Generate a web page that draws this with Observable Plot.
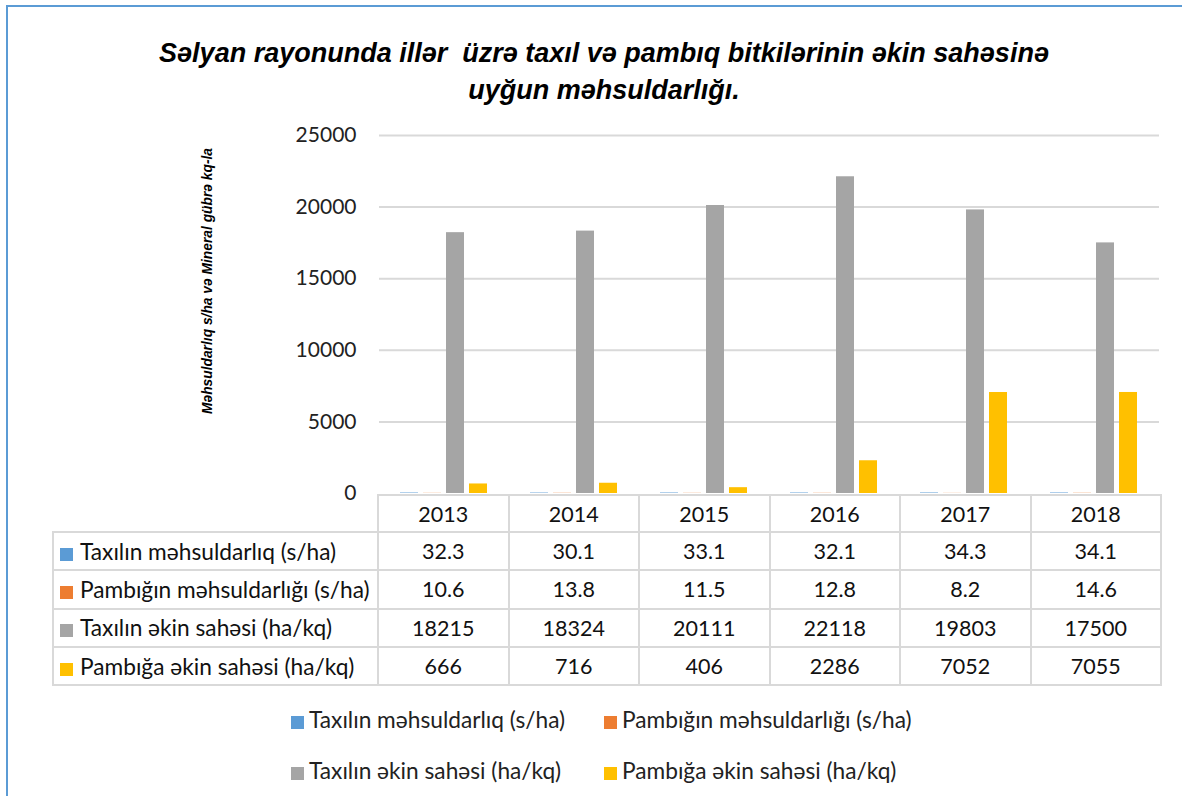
<!DOCTYPE html>
<html>
<head>
<meta charset="utf-8">
<script src="https://cdn.jsdelivr.net/npm/d3@7"></script>
<script src="https://cdn.jsdelivr.net/npm/@observablehq/plot@0.6"></script>
<style>
  html, body { margin: 0; padding: 0; background: #fff; }
  #root { position: relative; width: 1182px; height: 796px; overflow: hidden; background: #fff; }
  #frame { position: absolute; left: 6px; top: 5px; width: 1300px; height: 900px;
           border-top: 2px solid #5b9bd5; border-left: 2px solid #5b9bd5; }
  #title { position: absolute; left: 0; top: 35px; width: 1208px; text-align: center;
           font: italic bold 27px "Liberation Sans", Arial, sans-serif; line-height: 37px;
           color: #000; white-space: pre; }
  #ylabel { position: absolute; left: 207px; top: 281px; transform: translate(-50%, -50%) rotate(-90deg);
            font: italic bold 13.8px "Liberation Sans", Arial, sans-serif; color: #000; white-space: nowrap; }
  #chart { position: absolute; left: 0; top: 120px; }
  #tbl { position: absolute; left: 52px; top: 494px; border-collapse: collapse; table-layout: fixed;
         font-family: Lato, sans-serif; font-size: 21.5px; color: #111; }
  #tbl td { border: 2px solid #d9d9d9; padding: 0; text-align: center; white-space: nowrap; overflow: hidden; }
  #tbl td.lab { text-align: left; padding-left: 6px; font-size: 22.7px; }
  #tbl td.blank { border-top: none; border-left: none; }
  .sw { display: inline-block; width: 13px; height: 13px; margin-right: 7px; vertical-align: -1px; }
  .leg { position: absolute; font-family: Lato, sans-serif; font-size: 22.7px; color: #222; white-space: nowrap; line-height: 24px; }
</style>
</head>
<body>
<div id="root">
  <div id="frame"></div>
  <div id="title"></div>
  <div id="ylabel"></div>
  <div id="chart"></div>
  <table id="tbl"></table>
  <div id="legend"></div>
</div>
<script>
// ---- data ----
const years = ["2013", "2014", "2015", "2016", "2017", "2018"];
const seriesNames = [
  "Taxılın məhsuldarlıq (s/ha)",
  "Pambığın məhsuldarlığı (s/ha)",
  "Taxılın əkin sahəsi (ha/kq)",
  "Pambığa əkin sahəsi (ha/kq)"
];
const taxilMehsuldarliq = [32.3, 30.1, 33.1, 32.1, 34.3, 34.1];
const pambigMehsuldarliq = [10.6, 13.8, 11.5, 12.8, 8.2, 14.6];
const taxilEkinSahesi = [18215, 18324, 20111, 22118, 19803, 17500];
const pambigaEkinSahesi = [666, 716, 406, 2286, 7052, 7055];
const yTicks = [0, 5000, 10000, 15000, 20000, 25000];
const colors = ["#5b9bd5", "#ed7d31", "#a5a5a5", "#ffc000"];
const titleLines = ["Səlyan rayonunda illər  üzrə taxıl və pambıq bitkilərinin əkin sahəsinə", "uyğun məhsuldarlığı."];
const yLabel = "Məhsuldarlıq s/ha və Mineral gübrə kq-la";

const seriesValues = [taxilMehsuldarliq, pambigMehsuldarliq, taxilEkinSahesi, pambigaEkinSahesi];
const data = [];
years.forEach((yr, i) => seriesValues.forEach((vals, s) => data.push({year: yr, series: seriesNames[s], value: vals[i]})));

document.getElementById("title").textContent = titleLines.join("\n");
document.getElementById("ylabel").textContent = yLabel;

const chart = Plot.plot({
  width: 1182,
  height: 400,
  marginTop: 15,
  marginBottom: 27,
  marginLeft: 377,
  marginRight: 22,
  style: {fontFamily: "Lato, sans-serif", fontSize: "21px", color: "#222", background: "transparent"},
  fx: {domain: years, padding: 0, axis: null},
  x: {domain: seriesNames, paddingInner: 0.21, paddingOuter: 0.82, axis: null},
  y: {domain: [0, 25000], axis: null},
  color: {domain: seriesNames, range: colors},
  marks: [
    Plot.gridY(yTicks.filter(d => d > 0), {stroke: "#d9d9d9", strokeOpacity: 1, strokeWidth: 2}),
    Plot.axisY(yTicks, {tickSize: 0, tickPadding: 23, label: null, fill: "#222", fontSize: 21, tickFormat: d3.format("d")}),
    Plot.barY(data, {fx: "year", x: "series", y: "value", fill: "series"})
  ]
});
document.getElementById("chart").appendChild(chart);

// ---- data table ----
const tbl = document.getElementById("tbl");
const colg = document.createElement("colgroup");
[325, ...years.map(() => 130.5)].forEach(w => { const c = document.createElement("col"); c.style.width = w + "px"; colg.appendChild(c); });
tbl.appendChild(colg);
const hr = document.createElement("tr");
hr.style.height = "37px";
const blank = document.createElement("td"); blank.className = "blank"; hr.appendChild(blank);
years.forEach(y => { const td = document.createElement("td"); td.textContent = y; hr.appendChild(td); });
tbl.appendChild(hr);
seriesNames.forEach((name, s) => {
  const tr = document.createElement("tr");
  tr.style.height = "38.3px";
  const lab = document.createElement("td"); lab.className = "lab";
  lab.innerHTML = `<span class="sw" style="background:${colors[s]}"></span>`;
  lab.appendChild(document.createTextNode(name));
  tr.appendChild(lab);
  seriesValues[s].forEach(v => { const td = document.createElement("td"); td.textContent = String(v); tr.appendChild(td); });
  tbl.appendChild(tr);
});

// ---- legend ----
const legendPos = [[291, 708], [604, 708], [291, 759], [604, 759]];
const legend = document.getElementById("legend");
seriesNames.forEach((name, s) => {
  const d = document.createElement("div"); d.className = "leg";
  d.style.left = legendPos[s][0] + "px"; d.style.top = legendPos[s][1] + "px";
  d.innerHTML = `<span class="sw" style="background:${colors[s]};margin-right:5px"></span>`;
  d.appendChild(document.createTextNode(name));
  legend.appendChild(d);
});
</script>
</body>
</html>
